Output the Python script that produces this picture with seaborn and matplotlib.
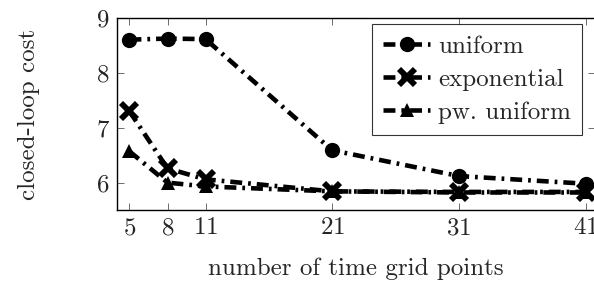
import matplotlib
matplotlib.use("Agg")
import matplotlib.pyplot as plt
import seaborn as sns
import pandas as pd

grid_points = [5, 8, 11, 21, 31, 41]
uniform = [8.61, 8.63, 8.62, 6.59, 6.12, 5.98]
exponential = [7.30, 6.26, 6.06, 5.84, 5.83, 5.83]
pw_uniform = [6.57, 6.00, 5.93, 5.84, 5.82, 5.82]
series_names = ["uniform", "exponential", "pw. uniform"]
x_ticks = [5, 8, 11, 21, 31, 41]
y_ticks = [6, 7, 8, 9]

sns.set_theme(style="ticks")
plt.rcParams["font.family"] = ["cmr10", "DejaVu Serif"]
plt.rcParams["mathtext.fontset"] = "cm"
plt.rcParams["axes.formatter.use_mathtext"] = True

fig = plt.figure(figsize=(5.94, 2.82), dpi=100)
ax = fig.add_axes([116.7 / 594, 1 - 210 / 282, (594.5 - 116.7) / 594, (210 - 18.3) / 282])

dash = (2.6, 1.3, 0.6, 1.3)
styles = [
    dict(marker="o", markersize=11, markeredgewidth=0),
    dict(marker="x", markersize=12, markeredgewidth=4.2),
    dict(marker="^", markersize=10.5, markeredgewidth=0),
]
for name, vals, st in zip(series_names, [uniform, exponential, pw_uniform], styles):
    df = pd.DataFrame({"x": grid_points, "y": vals})
    sns.lineplot(data=df, x="x", y="y", ax=ax, color="black", linewidth=3.3,
                 label=name, markerfacecolor="black", markeredgecolor="black",
                 dashes=False, **st)
for line in ax.get_lines():
    line.set_dashes(dash)

ax.set_xlim(3.99, 41.7)
ax.set_ylim(5.5, 9)
ax.set_xticks(x_ticks)
ax.set_yticks(y_ticks)
ax.tick_params(direction="in", length=5, width=0.6, color="#555555",
               top=True, right=True, labelsize=18, pad=5)
for s in ax.spines.values():
    s.set_linewidth(1.0)
    s.set_color("black")
ax.set_xlabel("number of time grid points", fontsize=18, labelpad=13)
ax.set_ylabel("closed-loop cost", fontsize=18, labelpad=40)

leg = ax.legend(loc="upper right", fontsize=18, frameon=True, fancybox=False,
                edgecolor="black", handlelength=1.9, handletextpad=0.3,
                borderpad=0.45, labelspacing=0.42, borderaxespad=0,
                bbox_to_anchor=(0.974, 0.97))
leg.get_frame().set_linewidth(0.8)
for h in leg.get_lines():
    h.set_dashes(dash)

fig.savefig("out.png", dpi=100)
